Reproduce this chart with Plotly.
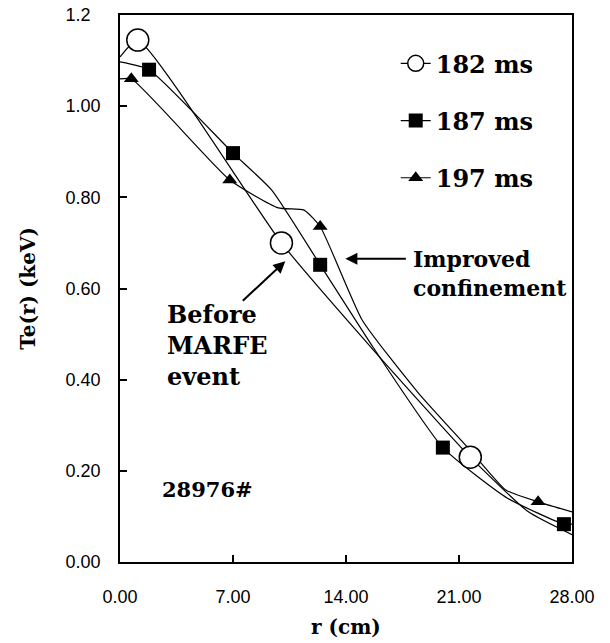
import plotly.graph_objects as go

# ---- data ----
series_names = ["182 ms", "187 ms", "197 ms"]

# profile lines (r in cm, Te in keV)
r_182_line = [0.0, 1.1, 10.0, 15.7, 21.7, 25.3, 28.0]
te_182_line = [1.108, 1.145, 0.70, 0.465, 0.23, 0.11, 0.06]
r_187_line = [0.0, 1.8, 7.0, 9.4, 12.4, 15.7, 20.0, 24.0, 27.5, 28.0]
te_187_line = [1.097, 1.08, 0.897, 0.816, 0.652, 0.47, 0.251, 0.14, 0.083, 0.083]
r_197_line = [0.0, 0.7, 6.8, 9.8, 11.4, 12.4, 15.0, 18.5, 21.7, 23.9, 25.9, 28.0]
te_197_line = [1.06, 1.06, 0.838, 0.777, 0.772, 0.736, 0.531, 0.37, 0.245, 0.158, 0.132, 0.11]

# marked measurement points
r_182 = [1.1, 10.0, 21.7]
te_182 = [1.145, 0.70, 0.23]
r_187 = [1.8, 7.0, 12.4, 20.0, 27.5]
te_187 = [1.08, 0.897, 0.652, 0.251, 0.083]
r_197 = [0.7, 6.8, 12.4, 25.9]
te_197 = [1.06, 0.838, 0.736, 0.132]

x_ticks = [0, 7, 14, 21, 28]
x_ticktext = ["0.00", "7.00", "14.00", "21.00", "28.00"]
y_ticks = [0, 0.2, 0.4, 0.6, 0.8, 1.0, 1.2]
y_ticktext = ["0.00", "0.20", "0.40", "0.60", "0.80", "1.00", "1.2\u00a0\u00a0"]

SERIF = "DejaVu Serif"
SANS = "Liberation Sans, Arial"

styles = {
    "182 ms": dict(symbol="circle", size=22, color="white", line=dict(color="black", width=1.5)),
    "187 ms": dict(symbol="square", size=14, color="black", line=dict(color="black", width=0)),
    "197 ms": dict(symbol="triangle-up", size=13, color="black", line=dict(color="black", width=0)),
}
lines = {
    "182 ms": (r_182_line, te_182_line, r_182, te_182),
    "187 ms": (r_187_line, te_187_line, r_187, te_187),
    "197 ms": (r_197_line, te_197_line, r_197, te_197),
}

fig = go.Figure()
for name in series_names:
    rl, tl, rm, tm = lines[name]
    fig.add_trace(go.Scatter(x=rl, y=tl, mode="lines", showlegend=False,
                             line=dict(color="black", width=1.2, shape="spline", smoothing=0.5),
                             hoverinfo="skip"))
for name in series_names:
    rl, tl, rm, tm = lines[name]
    fig.add_trace(go.Scatter(x=rm, y=tm, mode="markers", showlegend=False,
                             marker=styles[name]))
# legend entries
for name in series_names:
    fig.add_trace(go.Scatter(x=[None], y=[None], mode="lines+markers", name=name,
                             legendgroup=name,
                             line=dict(color="black", width=1.2), marker=dict(styles[name])))

# the page body has an 8px margin, so the figure is shrunk/shifted to compensate
fig.update_layout(
    width=602, height=635,
    margin=dict(l=112, r=38, t=7, b=81, autoexpand=False),
    paper_bgcolor="white", plot_bgcolor="white",
    font=dict(family=SANS, color="black", size=18),
    showlegend=True,
    legend=dict(x=0.61, y=0.952, xanchor="left", yanchor="top",
                bgcolor="rgba(0,0,0,0)", borderwidth=0,
                font=dict(family=SERIF, size=24, color="black", weight="bold"),
                tracegroupgap=23, itemsizing="trace"),
    xaxis=dict(range=[0, 28], tickvals=x_ticks, ticktext=x_ticktext,
               showline=True, mirror=True, linecolor="black", linewidth=1.5,
               ticks="inside", ticklen=7, tickwidth=1.5, tickcolor="black",
               showgrid=False, zeroline=False, ticklabelstandoff=18,
               ticklabeloverflow="allow", automargin=False,
               tickfont=dict(family=SANS, size=18)),
    yaxis=dict(range=[0, 1.2], tickvals=y_ticks, ticktext=y_ticktext,
               showline=True, mirror=True, linecolor="black", linewidth=1.5,
               ticks="inside", ticklen=7, tickwidth=1.5, tickcolor="black",
               showgrid=False, zeroline=False, ticklabelstandoff=14,
               ticklabeloverflow="allow", automargin=False,
               tickfont=dict(family=SANS, size=18)),
)

bold_serif = lambda s: dict(family=SERIF, size=s, color="black", weight="bold")

annotations = [
    # axis titles
    dict(text="r (cm)", xref="paper", yref="paper", x=0.5, y=-0.119,
         showarrow=False, font=bold_serif(20), xanchor="center", yanchor="middle"),
    dict(text="Te(r) (keV)", xref="paper", yref="paper", x=-0.205, y=0.5,
         showarrow=False, font=bold_serif(20), textangle=-90,
         xanchor="center", yanchor="middle"),
    # labels
    dict(text="Improved<br>confinement", x=18.0, y=0.632, xref="x", yref="y",
         showarrow=False, align="left", xanchor="left", yanchor="middle",
         font=bold_serif(22)),
    dict(text="Before<br>MARFE<br>event", x=2.8, y=0.476, xref="x", yref="y",
         showarrow=False, align="left", xanchor="left", yanchor="middle",
         font=bold_serif(24)),
    dict(text="28976#", x=2.5, y=0.158, xref="x", yref="y",
         showarrow=False, align="left", xanchor="left", yanchor="middle",
         font=bold_serif(21)),
    # arrows
    dict(text="", x=13.96, y=0.665, xref="x", yref="y", ax=62, ay=0,
         showarrow=True, arrowhead=2, arrowsize=1.2, arrowwidth=2, arrowcolor="black"),
    dict(text="", x=10.24, y=0.66, xref="x", yref="y", ax=-44, ay=41,
         showarrow=True, arrowhead=2, arrowsize=1.2, arrowwidth=2, arrowcolor="black"),
]
fig.update_layout(annotations=annotations)

fig.write_html("out.html")
